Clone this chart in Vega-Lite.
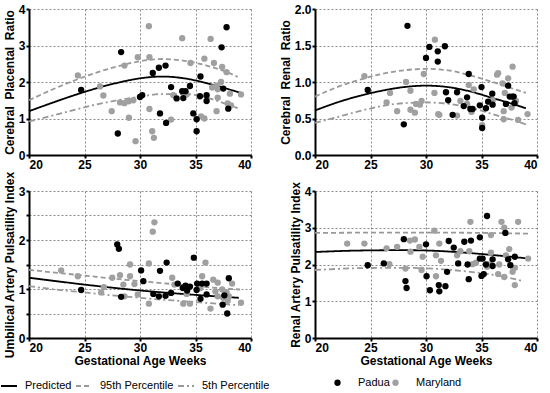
{
  "$schema": "https://vega.github.io/schema/vega-lite/v6.json",
  "background": "white",
  "padding": {"left": 0, "top": 3, "right": 5, "bottom": 5},
  "config": {
    "view": {"stroke": null},
    "axis": {
      "grid": true, "gridColor": "#8a8a8a", "gridDash": [2, 2], "gridWidth": 1, "gridOpacity": 1, "tickCount": 10,
      "domainColor": "#000", "domainWidth": 2, "tickColor": "#000", "tickWidth": 2, "tickSize": 3,
      "labelFont": "Liberation Sans", "labelFontWeight": "bold", "labelFontSize": 12, "labelColor": "#000", "labelPadding": 1,
      "titleFont": "Liberation Sans", "titleFontWeight": "bold", "titleFontSize": 12, "titleColor": "#000", "titlePadding": 2
    },
    "legend": {
      "direction": "horizontal", "labelFont": "Liberation Sans", "labelFontSize": 11, "labelColor": "#000",
      "padding": 0, "columnPadding": 0, "labelOffset": 7, "symbolStrokeWidth": 1.8
    }
  },
  "datasets": {
    "pts": [
      {"p":"CPR","site":"Maryland","week":24.4,"value":2.18},
      {"p":"CPR","site":"Maryland","week":26.4,"value":1.88},
      {"p":"CPR","site":"Maryland","week":26.7,"value":1.63},
      {"p":"CPR","site":"Maryland","week":27.45,"value":1.2},
      {"p":"CPR","site":"Maryland","week":28.2,"value":1.44},
      {"p":"CPR","site":"Maryland","week":28.6,"value":1.42},
      {"p":"CPR","site":"Maryland","week":28.6,"value":2.45},
      {"p":"CPR","site":"Maryland","week":29.0,"value":1.47},
      {"p":"CPR","site":"Maryland","week":29.0,"value":1.02},
      {"p":"CPR","site":"Maryland","week":29.4,"value":1.5},
      {"p":"CPR","site":"Maryland","week":29.6,"value":0.38},
      {"p":"CPR","site":"Maryland","week":29.8,"value":2.68},
      {"p":"CPR","site":"Maryland","week":30.8,"value":3.53},
      {"p":"CPR","site":"Maryland","week":30.85,"value":2.68},
      {"p":"CPR","site":"Maryland","week":30.85,"value":1.26},
      {"p":"CPR","site":"Maryland","week":31.1,"value":0.65},
      {"p":"CPR","site":"Maryland","week":31.25,"value":0.47},
      {"p":"CPR","site":"Maryland","week":32.8,"value":0.97},
      {"p":"CPR","site":"Maryland","week":33.0,"value":1.64},
      {"p":"CPR","site":"Maryland","week":33.8,"value":3.2},
      {"p":"CPR","site":"Maryland","week":34.2,"value":1.66},
      {"p":"CPR","site":"Maryland","week":34.55,"value":2.52},
      {"p":"CPR","site":"Maryland","week":35.5,"value":1.06},
      {"p":"CPR","site":"Maryland","week":35.8,"value":1.0},
      {"p":"CPR","site":"Maryland","week":35.8,"value":2.64},
      {"p":"CPR","site":"Maryland","week":36.36,"value":3.18},
      {"p":"CPR","site":"Maryland","week":36.5,"value":1.85},
      {"p":"CPR","site":"Maryland","week":36.66,"value":2.52},
      {"p":"CPR","site":"Maryland","week":36.9,"value":1.2},
      {"p":"CPR","site":"Maryland","week":36.9,"value":1.9},
      {"p":"CPR","site":"Maryland","week":37.0,"value":1.57},
      {"p":"CPR","site":"Maryland","week":37.0,"value":1.8},
      {"p":"CPR","site":"Maryland","week":37.3,"value":2.0},
      {"p":"CPR","site":"Maryland","week":37.4,"value":2.41},
      {"p":"CPR","site":"Maryland","week":37.8,"value":2.27},
      {"p":"CPR","site":"Maryland","week":37.9,"value":1.41},
      {"p":"CPR","site":"Maryland","week":38.1,"value":1.68},
      {"p":"CPR","site":"Maryland","week":38.2,"value":1.36},
      {"p":"CPR","site":"Maryland","week":39.1,"value":1.66},
      {"p":"CPR","site":"Padua","week":24.7,"value":1.78},
      {"p":"CPR","site":"Padua","week":28.3,"value":2.82},
      {"p":"CPR","site":"Padua","week":28.0,"value":0.59},
      {"p":"CPR","site":"Padua","week":30.0,"value":1.59},
      {"p":"CPR","site":"Padua","week":30.2,"value":1.64},
      {"p":"CPR","site":"Padua","week":31.15,"value":2.25},
      {"p":"CPR","site":"Padua","week":31.7,"value":2.39},
      {"p":"CPR","site":"Padua","week":32.3,"value":2.45},
      {"p":"CPR","site":"Padua","week":31.8,"value":1.14},
      {"p":"CPR","site":"Padua","week":32.35,"value":0.88},
      {"p":"CPR","site":"Padua","week":32.8,"value":1.86},
      {"p":"CPR","site":"Padua","week":33.3,"value":1.55},
      {"p":"CPR","site":"Padua","week":33.8,"value":1.75},
      {"p":"CPR","site":"Padua","week":34.1,"value":1.75},
      {"p":"CPR","site":"Padua","week":33.9,"value":1.56},
      {"p":"CPR","site":"Padua","week":34.5,"value":1.89},
      {"p":"CPR","site":"Padua","week":34.8,"value":1.14},
      {"p":"CPR","site":"Padua","week":35.1,"value":0.98},
      {"p":"CPR","site":"Padua","week":35.1,"value":0.65},
      {"p":"CPR","site":"Padua","week":35.45,"value":2.15},
      {"p":"CPR","site":"Padua","week":35.4,"value":1.61},
      {"p":"CPR","site":"Padua","week":36.0,"value":1.64},
      {"p":"CPR","site":"Padua","week":36.0,"value":1.48},
      {"p":"CPR","site":"Padua","week":37.35,"value":2.95},
      {"p":"CPR","site":"Padua","week":37.5,"value":1.82},
      {"p":"CPR","site":"Padua","week":37.8,"value":3.5},
      {"p":"CPR","site":"Padua","week":37.95,"value":1.27},

      {"p":"CRR","site":"Maryland","week":24.45,"value":1.08},
      {"p":"CRR","site":"Maryland","week":26.45,"value":0.72},
      {"p":"CRR","site":"Maryland","week":26.76,"value":0.85},
      {"p":"CRR","site":"Maryland","week":27.4,"value":0.6},
      {"p":"CRR","site":"Maryland","week":28.2,"value":1.0},
      {"p":"CRR","site":"Maryland","week":28.6,"value":0.88},
      {"p":"CRR","site":"Maryland","week":28.6,"value":0.62},
      {"p":"CRR","site":"Maryland","week":29.0,"value":0.58},
      {"p":"CRR","site":"Maryland","week":29.1,"value":0.70},
      {"p":"CRR","site":"Maryland","week":29.45,"value":0.69},
      {"p":"CRR","site":"Maryland","week":29.6,"value":0.74},
      {"p":"CRR","site":"Maryland","week":29.8,"value":1.11},
      {"p":"CRR","site":"Maryland","week":30.8,"value":1.58},
      {"p":"CRR","site":"Maryland","week":30.76,"value":0.85},
      {"p":"CRR","site":"Maryland","week":31.1,"value":0.56},
      {"p":"CRR","site":"Maryland","week":31.2,"value":0.55},
      {"p":"CRR","site":"Maryland","week":32.8,"value":0.54},
      {"p":"CRR","site":"Maryland","week":33.1,"value":0.74},
      {"p":"CRR","site":"Maryland","week":33.7,"value":0.70},
      {"p":"CRR","site":"Maryland","week":33.85,"value":0.96},
      {"p":"CRR","site":"Maryland","week":34.1,"value":0.59},
      {"p":"CRR","site":"Maryland","week":34.3,"value":0.9},
      {"p":"CRR","site":"Maryland","week":35.06,"value":0.41},
      {"p":"CRR","site":"Maryland","week":36.0,"value":0.75},
      {"p":"CRR","site":"Maryland","week":36.4,"value":1.1},
      {"p":"CRR","site":"Maryland","week":36.5,"value":1.12},
      {"p":"CRR","site":"Maryland","week":36.9,"value":0.98},
      {"p":"CRR","site":"Maryland","week":37.0,"value":0.6},
      {"p":"CRR","site":"Maryland","week":37.0,"value":0.49},
      {"p":"CRR","site":"Maryland","week":37.1,"value":0.85},
      {"p":"CRR","site":"Maryland","week":37.4,"value":1.05},
      {"p":"CRR","site":"Maryland","week":37.7,"value":0.65},
      {"p":"CRR","site":"Maryland","week":37.8,"value":1.21},
      {"p":"CRR","site":"Maryland","week":38.1,"value":0.74},
      {"p":"CRR","site":"Maryland","week":38.3,"value":0.48},
      {"p":"CRR","site":"Maryland","week":39.15,"value":0.56},
      {"p":"CRR","site":"Padua","week":24.75,"value":0.89},
      {"p":"CRR","site":"Padua","week":28.0,"value":0.42},
      {"p":"CRR","site":"Padua","week":28.33,"value":1.77},
      {"p":"CRR","site":"Padua","week":30.0,"value":1.33},
      {"p":"CRR","site":"Padua","week":30.3,"value":1.48},
      {"p":"CRR","site":"Padua","week":31.06,"value":1.42},
      {"p":"CRR","site":"Padua","week":31.06,"value":1.28},
      {"p":"CRR","site":"Padua","week":31.7,"value":1.49},
      {"p":"CRR","site":"Padua","week":31.8,"value":0.86},
      {"p":"CRR","site":"Padua","week":32.0,"value":0.75},
      {"p":"CRR","site":"Padua","week":32.4,"value":0.55},
      {"p":"CRR","site":"Padua","week":32.8,"value":0.86},
      {"p":"CRR","site":"Padua","week":33.4,"value":0.67},
      {"p":"CRR","site":"Padua","week":33.7,"value":0.79},
      {"p":"CRR","site":"Padua","week":33.85,"value":1.11},
      {"p":"CRR","site":"Padua","week":34.0,"value":0.63},
      {"p":"CRR","site":"Padua","week":34.2,"value":0.63},
      {"p":"CRR","site":"Padua","week":34.85,"value":0.68},
      {"p":"CRR","site":"Padua","week":35.0,"value":0.93},
      {"p":"CRR","site":"Padua","week":35.06,"value":0.51},
      {"p":"CRR","site":"Padua","week":35.06,"value":0.37},
      {"p":"CRR","site":"Padua","week":35.4,"value":0.64},
      {"p":"CRR","site":"Padua","week":35.6,"value":0.73},
      {"p":"CRR","site":"Padua","week":35.97,"value":0.84},
      {"p":"CRR","site":"Padua","week":36.0,"value":0.69},
      {"p":"CRR","site":"Padua","week":37.2,"value":0.70},
      {"p":"CRR","site":"Padua","week":37.4,"value":0.95},
      {"p":"CRR","site":"Padua","week":37.55,"value":0.8},
      {"p":"CRR","site":"Padua","week":37.8,"value":0.8},
      {"p":"CRR","site":"Padua","week":37.9,"value":0.8},
      {"p":"CRR","site":"Padua","week":37.97,"value":0.71},

      {"p":"UA","site":"Maryland","week":22.9,"value":1.38},
      {"p":"UA","site":"Maryland","week":24.4,"value":1.26},
      {"p":"UA","site":"Maryland","week":26.5,"value":0.93},
      {"p":"UA","site":"Maryland","week":26.75,"value":1.04},
      {"p":"UA","site":"Maryland","week":27.5,"value":1.23},
      {"p":"UA","site":"Maryland","week":28.2,"value":1.28},
      {"p":"UA","site":"Maryland","week":28.5,"value":1.09},
      {"p":"UA","site":"Maryland","week":28.6,"value":0.85},
      {"p":"UA","site":"Maryland","week":29.1,"value":1.5},
      {"p":"UA","site":"Maryland","week":29.1,"value":1.26},
      {"p":"UA","site":"Maryland","week":29.5,"value":1.1},
      {"p":"UA","site":"Maryland","week":29.8,"value":0.89},
      {"p":"UA","site":"Maryland","week":30.8,"value":1.52},
      {"p":"UA","site":"Maryland","week":30.8,"value":0.70},
      {"p":"UA","site":"Maryland","week":31.15,"value":2.17},
      {"p":"UA","site":"Maryland","week":31.3,"value":2.36},
      {"p":"UA","site":"Maryland","week":32.9,"value":1.23},
      {"p":"UA","site":"Maryland","week":33.1,"value":1.09},
      {"p":"UA","site":"Maryland","week":33.9,"value":0.70},
      {"p":"UA","site":"Maryland","week":34.2,"value":0.9},
      {"p":"UA","site":"Maryland","week":34.5,"value":0.70},
      {"p":"UA","site":"Maryland","week":35.45,"value":1.02},
      {"p":"UA","site":"Maryland","week":35.6,"value":1.26},
      {"p":"UA","site":"Maryland","week":35.9,"value":1.54},
      {"p":"UA","site":"Maryland","week":36.35,"value":0.6},
      {"p":"UA","site":"Maryland","week":36.6,"value":1.19},
      {"p":"UA","site":"Maryland","week":36.8,"value":0.95},
      {"p":"UA","site":"Maryland","week":37.0,"value":1.13},
      {"p":"UA","site":"Maryland","week":37.0,"value":0.85},
      {"p":"UA","site":"Maryland","week":37.4,"value":0.99},
      {"p":"UA","site":"Maryland","week":37.5,"value":0.82},
      {"p":"UA","site":"Maryland","week":37.8,"value":0.93},
      {"p":"UA","site":"Maryland","week":37.9,"value":0.76},
      {"p":"UA","site":"Maryland","week":38.0,"value":0.85},
      {"p":"UA","site":"Maryland","week":38.3,"value":1.11},
      {"p":"UA","site":"Maryland","week":39.1,"value":0.72},
      {"p":"UA","site":"Padua","week":24.7,"value":0.98},
      {"p":"UA","site":"Padua","week":27.95,"value":1.91},
      {"p":"UA","site":"Padua","week":28.1,"value":1.82},
      {"p":"UA","site":"Padua","week":28.3,"value":0.84},
      {"p":"UA","site":"Padua","week":30.1,"value":1.38},
      {"p":"UA","site":"Padua","week":30.3,"value":1.16},
      {"p":"UA","site":"Padua","week":31.2,"value":0.9},
      {"p":"UA","site":"Padua","week":31.7,"value":0.85},
      {"p":"UA","site":"Padua","week":31.8,"value":1.37},
      {"p":"UA","site":"Padua","week":32.3,"value":0.86},
      {"p":"UA","site":"Padua","week":32.4,"value":1.54},
      {"p":"UA","site":"Padua","week":32.8,"value":0.92},
      {"p":"UA","site":"Padua","week":33.4,"value":1.11},
      {"p":"UA","site":"Padua","week":33.85,"value":1.02},
      {"p":"UA","site":"Padua","week":34.1,"value":1.07},
      {"p":"UA","site":"Padua","week":34.25,"value":0.97},
      {"p":"UA","site":"Padua","week":34.5,"value":1.05},
      {"p":"UA","site":"Padua","week":34.85,"value":1.64},
      {"p":"UA","site":"Padua","week":35.1,"value":0.98},
      {"p":"UA","site":"Padua","week":35.15,"value":1.11},
      {"p":"UA","site":"Padua","week":35.45,"value":0.8},
      {"p":"UA","site":"Padua","week":35.6,"value":1.11},
      {"p":"UA","site":"Padua","week":36.0,"value":1.11},
      {"p":"UA","site":"Padua","week":36.0,"value":0.89},
      {"p":"UA","site":"Padua","week":37.45,"value":0.68},
      {"p":"UA","site":"Padua","week":37.6,"value":0.87},
      {"p":"UA","site":"Padua","week":37.86,"value":0.5},
      {"p":"UA","site":"Padua","week":38.0,"value":1.22},

      {"p":"RA","site":"Maryland","week":22.9,"value":2.57},
      {"p":"RA","site":"Maryland","week":24.45,"value":2.57},
      {"p":"RA","site":"Maryland","week":26.45,"value":2.44},
      {"p":"RA","site":"Maryland","week":26.7,"value":2.01},
      {"p":"RA","site":"Maryland","week":27.4,"value":2.48},
      {"p":"RA","site":"Maryland","week":28.15,"value":1.89},
      {"p":"RA","site":"Maryland","week":28.55,"value":2.65},
      {"p":"RA","site":"Maryland","week":28.6,"value":2.35},
      {"p":"RA","site":"Maryland","week":29.0,"value":2.68},
      {"p":"RA","site":"Maryland","week":29.4,"value":2.48},
      {"p":"RA","site":"Maryland","week":29.6,"value":1.85},
      {"p":"RA","site":"Maryland","week":29.7,"value":2.21},
      {"p":"RA","site":"Maryland","week":30.75,"value":2.92},
      {"p":"RA","site":"Maryland","week":30.9,"value":2.25},
      {"p":"RA","site":"Maryland","week":30.9,"value":1.68},
      {"p":"RA","site":"Maryland","week":31.2,"value":2.57},
      {"p":"RA","site":"Maryland","week":31.35,"value":2.1},
      {"p":"RA","site":"Maryland","week":32.8,"value":2.25},
      {"p":"RA","site":"Maryland","week":33.1,"value":2.36},
      {"p":"RA","site":"Maryland","week":33.9,"value":2.36},
      {"p":"RA","site":"Maryland","week":34.0,"value":3.16},
      {"p":"RA","site":"Maryland","week":34.2,"value":2.01},
      {"p":"RA","site":"Maryland","week":34.5,"value":2.05},
      {"p":"RA","site":"Maryland","week":35.5,"value":1.94},
      {"p":"RA","site":"Maryland","week":35.7,"value":2.0},
      {"p":"RA","site":"Maryland","week":35.85,"value":2.8},
      {"p":"RA","site":"Maryland","week":35.85,"value":2.32},
      {"p":"RA","site":"Maryland","week":36.5,"value":1.74},
      {"p":"RA","site":"Maryland","week":36.6,"value":2.0},
      {"p":"RA","site":"Maryland","week":36.8,"value":3.16},
      {"p":"RA","site":"Maryland","week":37.05,"value":3.0},
      {"p":"RA","site":"Maryland","week":37.05,"value":1.66},
      {"p":"RA","site":"Maryland","week":37.2,"value":2.25},
      {"p":"RA","site":"Maryland","week":37.5,"value":2.42},
      {"p":"RA","site":"Maryland","week":37.8,"value":1.8},
      {"p":"RA","site":"Maryland","week":38.0,"value":1.91},
      {"p":"RA","site":"Maryland","week":38.0,"value":1.44},
      {"p":"RA","site":"Maryland","week":38.3,"value":3.16},
      {"p":"RA","site":"Maryland","week":39.2,"value":2.16},
      {"p":"RA","site":"Padua","week":24.75,"value":1.98},
      {"p":"RA","site":"Padua","week":26.2,"value":2.03},
      {"p":"RA","site":"Padua","week":28.0,"value":2.69},
      {"p":"RA","site":"Padua","week":28.15,"value":1.55},
      {"p":"RA","site":"Padua","week":28.25,"value":1.36},
      {"p":"RA","site":"Padua","week":30.0,"value":2.55},
      {"p":"RA","site":"Padua","week":30.05,"value":1.68},
      {"p":"RA","site":"Padua","week":30.35,"value":1.3},
      {"p":"RA","site":"Padua","week":31.15,"value":1.44},
      {"p":"RA","site":"Padua","week":31.2,"value":1.27},
      {"p":"RA","site":"Padua","week":31.75,"value":1.41},
      {"p":"RA","site":"Padua","week":31.9,"value":1.8},
      {"p":"RA","site":"Padua","week":32.05,"value":2.64},
      {"p":"RA","site":"Padua","week":32.5,"value":2.46},
      {"p":"RA","site":"Padua","week":32.9,"value":2.03},
      {"p":"RA","site":"Padua","week":33.45,"value":2.62},
      {"p":"RA","site":"Padua","week":33.75,"value":2.0},
      {"p":"RA","site":"Padua","week":33.85,"value":1.6},
      {"p":"RA","site":"Padua","week":34.05,"value":2.65},
      {"p":"RA","site":"Padua","week":34.85,"value":2.74},
      {"p":"RA","site":"Padua","week":34.85,"value":2.16},
      {"p":"RA","site":"Padua","week":35.0,"value":1.69},
      {"p":"RA","site":"Padua","week":35.1,"value":2.16},
      {"p":"RA","site":"Padua","week":35.2,"value":1.74},
      {"p":"RA","site":"Padua","week":35.4,"value":2.0},
      {"p":"RA","site":"Padua","week":35.5,"value":3.32},
      {"p":"RA","site":"Padua","week":36.0,"value":2.14},
      {"p":"RA","site":"Padua","week":36.0,"value":1.96},
      {"p":"RA","site":"Padua","week":37.15,"value":2.86},
      {"p":"RA","site":"Padua","week":37.4,"value":2.14},
      {"p":"RA","site":"Padua","week":37.6,"value":1.98},
      {"p":"RA","site":"Padua","week":38.0,"value":2.21}
    ],
    "crv": [
      {"p":"CPR","curve":"Predicted","week":20,"value":1.2},
      {"p":"CPR","curve":"Predicted","week":22,"value":1.42},
      {"p":"CPR","curve":"Predicted","week":24,"value":1.63},
      {"p":"CPR","curve":"Predicted","week":26,"value":1.82},
      {"p":"CPR","curve":"Predicted","week":28,"value":1.98},
      {"p":"CPR","curve":"Predicted","week":30,"value":2.1},
      {"p":"CPR","curve":"Predicted","week":32,"value":2.15},
      {"p":"CPR","curve":"Predicted","week":34,"value":2.1},
      {"p":"CPR","curve":"Predicted","week":36,"value":1.97},
      {"p":"CPR","curve":"Predicted","week":38,"value":1.8},
      {"p":"CPR","curve":"Predicted","week":39.1,"value":1.7},
      {"p":"CPR","curve":"95th Percentile","week":20,"value":1.5},
      {"p":"CPR","curve":"95th Percentile","week":22,"value":1.78},
      {"p":"CPR","curve":"95th Percentile","week":24,"value":2.03},
      {"p":"CPR","curve":"95th Percentile","week":26,"value":2.25},
      {"p":"CPR","curve":"95th Percentile","week":28,"value":2.43},
      {"p":"CPR","curve":"95th Percentile","week":30,"value":2.57},
      {"p":"CPR","curve":"95th Percentile","week":32,"value":2.63},
      {"p":"CPR","curve":"95th Percentile","week":34,"value":2.58},
      {"p":"CPR","curve":"95th Percentile","week":36,"value":2.45},
      {"p":"CPR","curve":"95th Percentile","week":38,"value":2.25},
      {"p":"CPR","curve":"95th Percentile","week":38.8,"value":2.14},
      {"p":"CPR","curve":"5th Percentile","week":20,"value":0.92},
      {"p":"CPR","curve":"5th Percentile","week":22,"value":1.07},
      {"p":"CPR","curve":"5th Percentile","week":24,"value":1.23},
      {"p":"CPR","curve":"5th Percentile","week":26,"value":1.38},
      {"p":"CPR","curve":"5th Percentile","week":28,"value":1.5},
      {"p":"CPR","curve":"5th Percentile","week":30,"value":1.6},
      {"p":"CPR","curve":"5th Percentile","week":32,"value":1.67},
      {"p":"CPR","curve":"5th Percentile","week":34,"value":1.67},
      {"p":"CPR","curve":"5th Percentile","week":36,"value":1.57},
      {"p":"CPR","curve":"5th Percentile","week":38,"value":1.37},
      {"p":"CPR","curve":"5th Percentile","week":38.8,"value":1.28},

      {"p":"CRR","curve":"Predicted","week":20,"value":0.61},
      {"p":"CRR","curve":"Predicted","week":22,"value":0.72},
      {"p":"CRR","curve":"Predicted","week":24,"value":0.81},
      {"p":"CRR","curve":"Predicted","week":26,"value":0.88},
      {"p":"CRR","curve":"Predicted","week":28,"value":0.93},
      {"p":"CRR","curve":"Predicted","week":30,"value":0.95},
      {"p":"CRR","curve":"Predicted","week":32,"value":0.93},
      {"p":"CRR","curve":"Predicted","week":34,"value":0.87},
      {"p":"CRR","curve":"Predicted","week":36,"value":0.78},
      {"p":"CRR","curve":"Predicted","week":38,"value":0.69},
      {"p":"CRR","curve":"Predicted","week":39,"value":0.64},
      {"p":"CRR","curve":"95th Percentile","week":20,"value":0.8},
      {"p":"CRR","curve":"95th Percentile","week":22,"value":0.93},
      {"p":"CRR","curve":"95th Percentile","week":24,"value":1.03},
      {"p":"CRR","curve":"95th Percentile","week":26,"value":1.11},
      {"p":"CRR","curve":"95th Percentile","week":28,"value":1.16},
      {"p":"CRR","curve":"95th Percentile","week":30,"value":1.18},
      {"p":"CRR","curve":"95th Percentile","week":32,"value":1.16},
      {"p":"CRR","curve":"95th Percentile","week":34,"value":1.09},
      {"p":"CRR","curve":"95th Percentile","week":36,"value":1.0},
      {"p":"CRR","curve":"95th Percentile","week":38,"value":0.9},
      {"p":"CRR","curve":"95th Percentile","week":39,"value":0.85},
      {"p":"CRR","curve":"5th Percentile","week":20,"value":0.44},
      {"p":"CRR","curve":"5th Percentile","week":22,"value":0.52},
      {"p":"CRR","curve":"5th Percentile","week":24,"value":0.6},
      {"p":"CRR","curve":"5th Percentile","week":26,"value":0.67},
      {"p":"CRR","curve":"5th Percentile","week":28,"value":0.71},
      {"p":"CRR","curve":"5th Percentile","week":30,"value":0.72},
      {"p":"CRR","curve":"5th Percentile","week":32,"value":0.7},
      {"p":"CRR","curve":"5th Percentile","week":34,"value":0.65},
      {"p":"CRR","curve":"5th Percentile","week":36,"value":0.56},
      {"p":"CRR","curve":"5th Percentile","week":38,"value":0.47},
      {"p":"CRR","curve":"5th Percentile","week":39,"value":0.42},

      {"p":"UA","curve":"Predicted","week":20,"value":1.23},
      {"p":"UA","curve":"Predicted","week":25,"value":1.09},
      {"p":"UA","curve":"Predicted","week":30,"value":0.97},
      {"p":"UA","curve":"Predicted","week":35,"value":0.88},
      {"p":"UA","curve":"Predicted","week":38.9,"value":0.82},
      {"p":"UA","curve":"95th Percentile","week":20,"value":1.39},
      {"p":"UA","curve":"95th Percentile","week":23,"value":1.32},
      {"p":"UA","curve":"95th Percentile","week":26,"value":1.25},
      {"p":"UA","curve":"95th Percentile","week":29,"value":1.18},
      {"p":"UA","curve":"95th Percentile","week":32,"value":1.12},
      {"p":"UA","curve":"95th Percentile","week":35,"value":1.06},
      {"p":"UA","curve":"95th Percentile","week":37,"value":1.02},
      {"p":"UA","curve":"95th Percentile","week":39,"value":0.99},
      {"p":"UA","curve":"5th Percentile","week":20,"value":1.06},
      {"p":"UA","curve":"5th Percentile","week":22,"value":1.0},
      {"p":"UA","curve":"5th Percentile","week":25,"value":0.93},
      {"p":"UA","curve":"5th Percentile","week":28,"value":0.86},
      {"p":"UA","curve":"5th Percentile","week":31,"value":0.8},
      {"p":"UA","curve":"5th Percentile","week":34,"value":0.75},
      {"p":"UA","curve":"5th Percentile","week":37,"value":0.7},
      {"p":"UA","curve":"5th Percentile","week":38.9,"value":0.67},

      {"p":"RA","curve":"Predicted","week":20,"value":2.34},
      {"p":"RA","curve":"Predicted","week":24,"value":2.38},
      {"p":"RA","curve":"Predicted","week":28,"value":2.39},
      {"p":"RA","curve":"Predicted","week":31,"value":2.37},
      {"p":"RA","curve":"Predicted","week":34,"value":2.31},
      {"p":"RA","curve":"Predicted","week":37,"value":2.23},
      {"p":"RA","curve":"Predicted","week":39,"value":2.17},
      {"p":"RA","curve":"95th Percentile","week":20,"value":2.86},
      {"p":"RA","curve":"95th Percentile","week":30,"value":2.87},
      {"p":"RA","curve":"95th Percentile","week":39.2,"value":2.84},
      {"p":"RA","curve":"5th Percentile","week":20,"value":1.85},
      {"p":"RA","curve":"5th Percentile","week":24,"value":1.9},
      {"p":"RA","curve":"5th Percentile","week":28,"value":1.91},
      {"p":"RA","curve":"5th Percentile","week":31,"value":1.88},
      {"p":"RA","curve":"5th Percentile","week":34,"value":1.8},
      {"p":"RA","curve":"5th Percentile","week":37,"value":1.67},
      {"p":"RA","curve":"5th Percentile","week":38.6,"value":1.56}
    ]
  },
  "columns": 2,
  "spacing": {"row": 36, "column": 64},
  "bounds": "flush",
  "concat": [
    {
      "width": 222, "height": 146,
      "layer": [
        {
          "data": {"name": "crv"},
          "transform": [{"filter": "datum.p === 'CPR'"}],
          "mark": {"type": "line", "interpolate": "monotone", "strokeWidth": 1.8},
          "encoding": {
            "x": {"field": "week", "type": "quantitative", "scale": {"domain": [20, 40], "nice": false}, "axis": {"values": [20, 25, 30, 35, 40], "tickCount": 10, "format": "d", "title": null, "grid": true}},
            "y": {"field": "value", "type": "quantitative", "scale": {"domain": [0, 4], "nice": false}, "axis": {"values": [0, 1, 2, 3, 4], "tickCount": 10, "format": "d", "title": "Cerebral \u00a0Placental \u00a0Ratio", "grid": true}},
            "stroke": {"field": "curve", "type": "nominal", "scale": {"domain": ["Predicted", "95th Percentile", "5th Percentile"], "range": ["#000000", "#999999", "#999999"]}, "legend": {"title": null, "orient": "none", "legendX": -29, "legendY": 368, "symbolType": "stroke", "symbolSize": 256}},
            "strokeDash": {"field": "curve", "type": "nominal", "scale": {"domain": ["Predicted", "95th Percentile", "5th Percentile"], "range": [[1, 0], [5, 3], [6, 3, 2, 3]]}, "legend": {"title": null, "orient": "none", "legendX": -29, "legendY": 368, "symbolType": "stroke", "symbolSize": 256}}
          }
        },
        {
          "data": {"name": "pts"},
          "transform": [{"filter": "datum.p === 'CPR'"}],
          "mark": {"type": "circle", "size": 40, "opacity": 1},
          "encoding": {
            "x": {"field": "week", "type": "quantitative"},
            "y": {"field": "value", "type": "quantitative"},
            "fill": {"field": "site", "type": "nominal", "scale": {"domain": ["Padua", "Maryland"], "range": ["#000000", "#a0a0a0"]}, "legend": {"title": null, "orient": "none", "legendX": 303, "legendY": 368, "symbolType": "circle", "symbolSize": 40, "labelOffset": 15, "columnPadding": 0}}
          }
        }
      ]
    },
    {
      "width": 222, "height": 146,
      "layer": [
        {
          "data": {"name": "crv"},
          "transform": [{"filter": "datum.p === 'CRR'"}],
          "mark": {"type": "line", "interpolate": "monotone", "strokeWidth": 1.8},
          "encoding": {
            "x": {"field": "week", "type": "quantitative", "scale": {"domain": [20, 40], "nice": false}, "axis": {"values": [20, 25, 30, 35, 40], "tickCount": 10, "format": "d", "title": null, "grid": true}},
            "y": {"field": "value", "type": "quantitative", "scale": {"domain": [0, 2], "nice": false}, "axis": {"values": [0, 0.5, 1, 1.5, 2], "tickCount": 10, "format": ".1f", "title": "Cerebral \u00a0Renal \u00a0Ratio", "grid": true}},
            "stroke": {"field": "curve", "type": "nominal"},
            "strokeDash": {"field": "curve", "type": "nominal"}
          }
        },
        {
          "data": {"name": "pts"},
          "transform": [{"filter": "datum.p === 'CRR'"}],
          "mark": {"type": "circle", "size": 40, "opacity": 1},
          "encoding": {
            "x": {"field": "week", "type": "quantitative"},
            "y": {"field": "value", "type": "quantitative"},
            "fill": {"field": "site", "type": "nominal"}
          }
        }
      ]
    },
    {
      "width": 222, "height": 147,
      "layer": [
        {
          "data": {"name": "crv"},
          "transform": [{"filter": "datum.p === 'UA'"}],
          "mark": {"type": "line", "interpolate": "monotone", "strokeWidth": 1.8},
          "encoding": {
            "x": {"field": "week", "type": "quantitative", "scale": {"domain": [20, 40], "nice": false}, "axis": {"values": [20, 25, 30, 35, 40], "tickCount": 10, "format": "d", "title": "Gestational Age Weeks", "grid": true}},
            "y": {"field": "value", "type": "quantitative", "scale": {"domain": [0, 3], "nice": false}, "axis": {"values": [0, 0.5, 1, 1.5, 2, 2.5, 3], "tickCount": 10, "labelExpr": "datum.value % 1 === 0 ? format(datum.value, 'd') : ''", "title": "Umbilical Artery Pulsatility Index", "grid": true}},
            "stroke": {"field": "curve", "type": "nominal"},
            "strokeDash": {"field": "curve", "type": "nominal"}
          }
        },
        {
          "data": {"name": "pts"},
          "transform": [{"filter": "datum.p === 'UA'"}],
          "mark": {"type": "circle", "size": 40, "opacity": 1},
          "encoding": {
            "x": {"field": "week", "type": "quantitative"},
            "y": {"field": "value", "type": "quantitative"},
            "fill": {"field": "site", "type": "nominal"}
          }
        }
      ]
    },
    {
      "width": 222, "height": 147,
      "layer": [
        {
          "data": {"name": "crv"},
          "transform": [{"filter": "datum.p === 'RA'"}],
          "mark": {"type": "line", "interpolate": "monotone", "strokeWidth": 1.8},
          "encoding": {
            "x": {"field": "week", "type": "quantitative", "scale": {"domain": [20, 40], "nice": false}, "axis": {"values": [20, 25, 30, 35, 40], "tickCount": 10, "format": "d", "title": "Gestational Age Weeks", "grid": true}},
            "y": {"field": "value", "type": "quantitative", "scale": {"domain": [0, 4], "nice": false}, "axis": {"values": [0, 1, 2, 3, 4], "tickCount": 10, "format": "d", "title": "Renal Artery Pulsatility Index", "grid": true}},
            "stroke": {"field": "curve", "type": "nominal"},
            "strokeDash": {"field": "curve", "type": "nominal"}
          }
        },
        {
          "data": {"name": "pts"},
          "transform": [{"filter": "datum.p === 'RA'"}],
          "mark": {"type": "circle", "size": 40, "opacity": 1},
          "encoding": {
            "x": {"field": "week", "type": "quantitative"},
            "y": {"field": "value", "type": "quantitative"},
            "fill": {"field": "site", "type": "nominal"}
          }
        }
      ]
    }
  ]
}
